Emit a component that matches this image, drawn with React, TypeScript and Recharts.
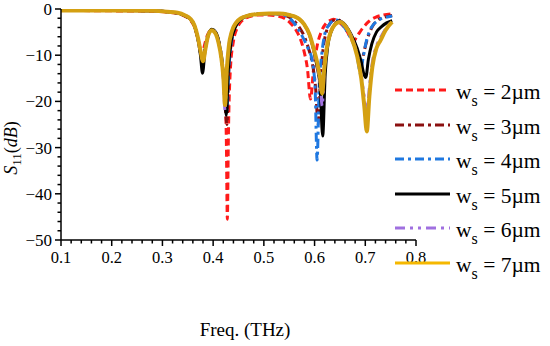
import { LineChart, Line, XAxis, YAxis } from "recharts";

// frequency (THz) and S11 (dB) for each slot width
const freq2 = [0.10, 0.20, 0.28, 0.31, 0.33, 0.345, 0.355, 0.363, 0.37, 0.374, 0.378, 0.383, 0.389, 0.397, 0.405, 0.412, 0.418, 0.423, 0.426, 0.428, 0.43, 0.434, 0.44, 0.448, 0.458, 0.47, 0.49, 0.51, 0.525, 0.54, 0.552, 0.563, 0.572, 0.58, 0.586, 0.592, 0.598, 0.605, 0.613, 0.622, 0.63, 0.637, 0.645, 0.655, 0.665, 0.676, 0.686, 0.696, 0.708, 0.72, 0.735, 0.755];
const s11_2 = [-0.3, -0.4, -0.5, -0.7, -1, -1.6, -2.4, -3.8, -6.5, -8.5, -10, -7.8, -5.6, -4.6, -5.2, -7.8, -12, -18, -28, -45.5, -28, -13, -7, -4, -2.4, -1.7, -1.3, -1.3, -1.5, -2, -3, -4.5, -6.5, -9.5, -13, -19.5, -13, -8, -5, -3.2, -2.5, -2.2, -2.6, -3.5, -5, -7, -5.5, -4, -2.6, -1.8, -1.3, -1.0];

const freq3 = [0.10, 0.20, 0.28, 0.31, 0.33, 0.345, 0.355, 0.363, 0.37, 0.375, 0.379, 0.384, 0.39, 0.397, 0.405, 0.412, 0.418, 0.422, 0.427, 0.431, 0.435, 0.44, 0.448, 0.458, 0.47, 0.49, 0.51, 0.53, 0.545, 0.558, 0.57, 0.58, 0.588, 0.596, 0.602, 0.607, 0.612, 0.617, 0.623, 0.63, 0.638, 0.645, 0.655, 0.665, 0.675, 0.683, 0.688, 0.692, 0.697, 0.704, 0.714, 0.727, 0.74, 0.753];
const s11_3 = [-0.3, -0.3, -0.4, -0.6, -0.9, -1.5, -2.2, -3.6, -6.5, -9.5, -11.5, -8.5, -5.7, -4.5, -5.1, -7.5, -11.5, -16, -25, -13, -8, -5, -3, -2, -1.4, -1.1, -1, -1.1, -1.5, -2.4, -4, -6, -8.5, -12, -17, -25, -15, -8.5, -5, -3.2, -2.4, -2.3, -3, -4.5, -6.8, -9.5, -11.5, -12, -9.5, -6.5, -3.8, -2.2, -1.7, -1.4];

const freq4 = [0.10, 0.20, 0.28, 0.31, 0.33, 0.345, 0.355, 0.363, 0.37, 0.375, 0.379, 0.384, 0.39, 0.397, 0.405, 0.412, 0.418, 0.422, 0.427, 0.431, 0.435, 0.44, 0.448, 0.458, 0.47, 0.49, 0.51, 0.53, 0.545, 0.558, 0.57, 0.58, 0.587, 0.595, 0.601, 0.605, 0.609, 0.614, 0.62, 0.628, 0.636, 0.643, 0.652, 0.662, 0.672, 0.68, 0.686, 0.69, 0.695, 0.702, 0.712, 0.725, 0.74, 0.753];
const s11_4 = [-0.3, -0.3, -0.4, -0.6, -0.9, -1.5, -2.2, -3.6, -6.5, -9.5, -11.5, -8.5, -5.7, -4.5, -5.1, -7.5, -11.5, -16, -22, -13, -8, -5, -3, -2, -1.4, -1.1, -1, -1.1, -1.6, -2.8, -4.8, -6.8, -8.5, -11, -17, -32.7, -17, -10, -5.5, -3.5, -2.6, -2.4, -3, -4.5, -6.5, -8.5, -11.5, -14, -11, -7, -4, -2.5, -1.8, -1.5];

const freq5 = [0.10, 0.20, 0.28, 0.31, 0.33, 0.345, 0.355, 0.363, 0.37, 0.375, 0.379, 0.384, 0.39, 0.397, 0.405, 0.412, 0.418, 0.422, 0.426, 0.43, 0.434, 0.44, 0.448, 0.458, 0.47, 0.49, 0.51, 0.53, 0.55, 0.56, 0.57, 0.58, 0.59, 0.598, 0.605, 0.611, 0.616, 0.621, 0.626, 0.633, 0.64, 0.648, 0.66, 0.672, 0.684, 0.692, 0.697, 0.701, 0.706, 0.713, 0.722, 0.732, 0.742, 0.753];
const s11_5 = [-0.3, -0.3, -0.4, -0.6, -0.9, -1.5, -2.2, -3.6, -6.5, -10, -13.9, -9, -5.8, -4.4, -5, -7.5, -12, -17, -23, -13, -8, -5, -3, -2, -1.4, -1.1, -1, -1, -1.3, -1.6, -2.2, -3.4, -5.6, -8.8, -12.5, -17, -27.5, -14, -8, -4.8, -3.3, -2.6, -3.4, -5.5, -8.5, -11.5, -14, -14.8, -11, -7.5, -5, -3.8, -3, -2.5];

const freq6 = [0.10, 0.20, 0.28, 0.31, 0.33, 0.345, 0.355, 0.363, 0.37, 0.375, 0.38, 0.385, 0.39, 0.397, 0.404, 0.411, 0.416, 0.42, 0.4235, 0.427, 0.431, 0.437, 0.445, 0.455, 0.47, 0.49, 0.51, 0.53, 0.55, 0.56, 0.57, 0.58, 0.59, 0.598, 0.605, 0.611, 0.615, 0.619, 0.624, 0.631, 0.64, 0.65, 0.66, 0.672, 0.684, 0.692, 0.698, 0.703, 0.708, 0.714, 0.722, 0.73, 0.74, 0.753];
const s11_6 = [-0.3, -0.3, -0.4, -0.6, -0.9, -1.4, -2.1, -3.5, -6.2, -9, -11, -8.3, -5.7, -4.5, -5.1, -7.4, -10.5, -15, -22, -13.5, -8, -4.8, -3, -2, -1.4, -1.1, -1, -1, -1.3, -1.6, -2.2, -3.4, -5.6, -8.8, -12, -16, -21, -13.5, -8.5, -5.2, -3.4, -2.7, -3.5, -5.8, -10, -14.5, -19, -23, -17, -11.5, -8, -6.2, -4.3, -2.6];

const freq7 = [0.10, 0.20, 0.28, 0.31, 0.33, 0.345, 0.355, 0.363, 0.37, 0.375, 0.38, 0.385, 0.39, 0.397, 0.404, 0.411, 0.416, 0.42, 0.4235, 0.427, 0.431, 0.437, 0.445, 0.455, 0.47, 0.49, 0.51, 0.53, 0.55, 0.56, 0.57, 0.58, 0.59, 0.598, 0.605, 0.611, 0.615, 0.619, 0.624, 0.631, 0.64, 0.65, 0.66, 0.672, 0.684, 0.692, 0.698, 0.703, 0.708, 0.714, 0.722, 0.73, 0.74, 0.753];
const s11_7 = [-0.3, -0.3, -0.4, -0.6, -0.8, -1.4, -2.1, -3.5, -6.2, -9, -11.3, -8.5, -5.8, -4.6, -5.2, -7.5, -10.5, -14.5, -20.8, -13, -8, -4.8, -3, -2, -1.4, -1.1, -1.0, -1.0, -1.3, -1.6, -2.2, -3.4, -5.5, -8.5, -11.5, -15, -18.3, -13, -8.5, -5.2, -3.4, -2.8, -3.6, -6, -10.2, -15, -21, -26.5, -19, -12.5, -8.5, -6.8, -4.6, -2.8];

const widths = ["2", "3", "4", "5", "6", "7"];
const xMajor = [0.1, 0.2, 0.3, 0.4, 0.5, 0.6, 0.7, 0.8];
const yMajor = [0, -10, -20, -30, -40, -50];

const xTicks = Array.from({ length: 36 }, (_, i) => +(0.1 + i * 0.02).toFixed(2));
const yTicks = Array.from({ length: 26 }, (_, i) => -i * 2);

const toPoints = (f: number[], v: number[]) => f.map((x, i) => ({ f: x, v: v[i] }));

const series = [
  { data: toPoints(freq2, s11_2), color: "#ff1a1a", dash: "7 4", width: 3, legendColor: "#ff1a1a" },
  { data: toPoints(freq3, s11_3), color: "#8b1010", dash: "9 4 3 4", width: 3, legendColor: "#8b1010" },
  { data: toPoints(freq4, s11_4), color: "#1f78e0", dash: "9 4 3 4", width: 3, legendColor: "#1f78e0" },
  { data: toPoints(freq5, s11_5), color: "#000000", dash: undefined, width: 3, legendColor: "#000000" },
  { data: toPoints(freq6, s11_6), color: "#a070e0", dash: "10 5 3 5 3 5", width: 3, legendColor: "#a070e0" },
  { data: toPoints(freq7, s11_7), color: "#d4a012", dash: undefined, width: 4, legendColor: "#f5b800" },
];

const FONT = "Liberation Serif";

const isMajor = (v: number, list: number[]) => list.some((m) => Math.abs(m - v) < 1e-6);

const XTick = (props: any) => {
  const { x, y, payload } = props;
  const major = isMajor(payload.value, xMajor);
  return (
    <g>
      <line x1={x} x2={x} y1={y} y2={y + (major ? 6 : 3.5)} stroke="#000" strokeWidth={1.5} />
      {major && (
        <text x={x} y={y + 23} textAnchor="middle" fontSize={16.5} style={{ fontFamily: FONT }} fill="#000">
          {payload.value.toFixed(1)}
        </text>
      )}
    </g>
  );
};

const YTick = (props: any) => {
  const { x, y, payload } = props;
  const major = isMajor(payload.value, yMajor);
  const label = payload.value < 0 ? "\u2212" + Math.abs(payload.value) : String(payload.value);
  return (
    <g>
      <line x1={x} x2={x - (major ? 6 : 3.5)} y1={y} y2={y} stroke="#000" strokeWidth={1.5} />
      {major && (
        <text x={x - 9} y={y + 6} textAnchor="end" fontSize={17} style={{ fontFamily: FONT }} fill="#000">
          {label}
        </text>
      )}
    </g>
  );
};

const YTitle = () => (
  <text transform="rotate(-90, 17, 148)" x={17} y={148} textAnchor="middle" fontSize={18} style={{ fontFamily: FONT }} fill="#000">
    <tspan fontStyle="italic">S</tspan>
    <tspan fontSize={13} dy={4}>11</tspan>
    <tspan dy={-4}>(</tspan>
    <tspan fontStyle="italic">dB</tspan>
    <tspan>)</tspan>
  </text>
);

const XTitle = () => (
  <text x={245} y={336} textAnchor="middle" fontSize={19} style={{ fontFamily: FONT }} fill="#000">
    Freq. (THz)
  </text>
);

export default function App() {
  return (
    <div style={{ position: "absolute", left: 0, top: 0, width: 550, height: 346, background: "#fff", fontFamily: FONT }}>
      <LineChart width={550} height={346} margin={{ top: 9, right: 134, left: 0, bottom: 53 }}>
        <XAxis
          type="number"
          dataKey="f"
          domain={[0.1, 0.8]}
          ticks={xTicks}
          interval={0}
          allowDataOverflow
          tickSize={0}
          tickMargin={0}
          height={53}
          axisLine={{ stroke: "#000", strokeWidth: 1.5 }}
          tickLine={false}
          tick={<XTick />}
          label={<XTitle />}
        />
        <YAxis
          type="number"
          dataKey="v"
          domain={[-50, 0]}
          ticks={yTicks}
          interval={0}
          allowDataOverflow
          width={61}
          tickSize={0}
          tickMargin={0}
          axisLine={{ stroke: "#000", strokeWidth: 1.5 }}
          tickLine={false}
          tick={<YTick />}
          label={<YTitle />}
        />
        {series.map((s, i) => (
          <Line
            key={widths[i]}
            data={s.data}
            dataKey="v"
            type="monotone"
            stroke={s.color}
            strokeWidth={s.width}
            strokeDasharray={s.dash}
            dot={false}
            activeDot={false}
            isAnimationActive={false}
          />
        ))}
      </LineChart>
      {series.map((s, i) => {
        const lineY = 90 + i * 34.6;
        return (
          <div key={widths[i]}>
            <svg style={{ position: "absolute", left: 394, top: lineY - 3 }} width={58} height={6}>
              <line x1={1} x2={56} y1={3} y2={3} stroke={s.legendColor} strokeWidth={3} strokeDasharray={s.dash} />
            </svg>
            <div
              style={{
                position: "absolute",
                left: 456,
                top: lineY - 8,
                fontSize: 21.5,
                lineHeight: "21px",
                whiteSpace: "nowrap",
                color: "#000",
              }}
            >
              w<span style={{ position: "relative", top: 7, fontSize: 16 }}>s</span> = {widths[i]}µm
            </div>
          </div>
        );
      })}
    </div>
  );
}
